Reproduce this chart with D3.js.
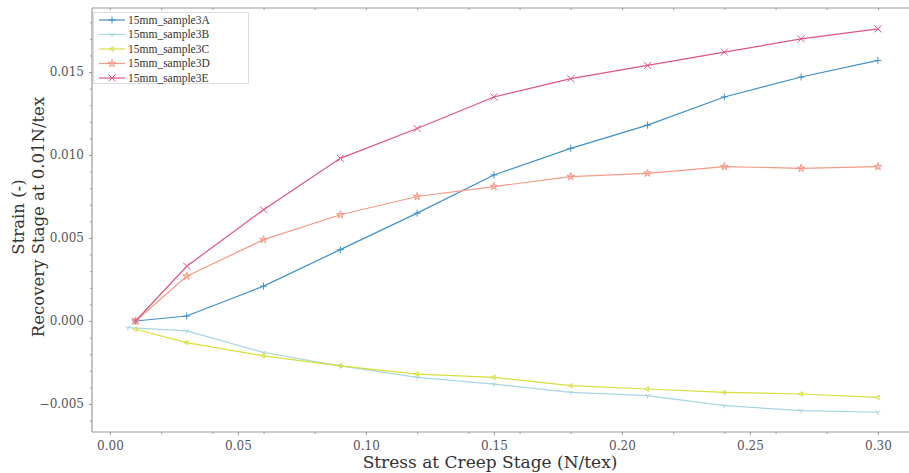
<!DOCTYPE html>
<html><head><meta charset="utf-8">
<script src="https://cdn.jsdelivr.net/npm/d3@7"></script>
<style>body{margin:0;background:#fff}</style>
</head><body>
<svg id="c" width="909" height="473"></svg>
<script>
const xStd = [0.01,0.03,0.06,0.09,0.12,0.15,0.18,0.21,0.24,0.27,0.30];
const xB = [0.007,0.03,0.06,0.09,0.12,0.15,0.18,0.21,0.24,0.27,0.30];
const s3A = [0.0000,0.0003,0.0021,0.0043,0.0065,0.0088,0.0104,0.0118,0.0135,0.0147,0.0157];
const s3B = [-0.0004,-0.0006,-0.0019,-0.0027,-0.0034,-0.0038,-0.0043,-0.0045,-0.0051,-0.0054,-0.0055];
const s3C = [-0.0005,-0.0013,-0.0021,-0.0027,-0.0032,-0.0034,-0.0039,-0.0041,-0.0043,-0.0044,-0.0046];
const s3D = [0.0000,0.0027,0.0049,0.0064,0.0075,0.0081,0.0087,0.0089,0.0093,0.0092,0.0093];
const s3E = [0.0000,0.0033,0.0067,0.0098,0.0116,0.0135,0.0146,0.0154,0.0162,0.0170,0.0176];
const seriesNames = ["15mm_sample3A","15mm_sample3B","15mm_sample3C","15mm_sample3D","15mm_sample3E"];
const xTicks = [0.00,0.05,0.10,0.15,0.20,0.25,0.30];
const yTicks = [-0.005,0.000,0.005,0.010,0.015];

const series = [
  {name:seriesNames[0], xs:xStd, ys:s3A, color:"#4190c6", marker:"plus"},
  {name:seriesNames[1], xs:xB, ys:s3B, color:"#a8d5e4", marker:"tri"},
  {name:seriesNames[2], xs:xStd, ys:s3C, color:"#d6e03c", marker:"left"},
  {name:seriesNames[3], xs:xStd, ys:s3D, color:"#f59a86", marker:"star"},
  {name:seriesNames[4], xs:xStd, ys:s3E, color:"#e05584", marker:"x"}
];

const svg = d3.select("#c");
const L = 92, T = 8, B = 432, R = 912;
const x = d3.scaleLinear().domain([-0.0070, 0.3133]).range([L, R]);
const y = d3.scaleLinear().domain([-0.00669, 0.01886]).range([B, T]);
const axisColor = "#9a9a9a";
const fontTick = "DejaVu Serif";

// spines
svg.append("line").attr("x1",L).attr("x2",909).attr("y1",B).attr("y2",B).attr("stroke",axisColor).attr("stroke-width",1.2);
svg.append("line").attr("x1",L).attr("x2",909).attr("y1",T).attr("y2",T).attr("stroke",axisColor).attr("stroke-width",1.2);
svg.append("line").attr("x1",L).attr("x2",L).attr("y1",T).attr("y2",B).attr("stroke",axisColor).attr("stroke-width",1.2);

// x axis
const xAxis = d3.axisBottom(x).tickValues(xTicks).tickFormat(d3.format(".2f")).tickSize(3).tickPadding(6);
const gx = svg.append("g").attr("transform",`translate(0,${B})`).call(xAxis);
gx.select(".domain").remove();
gx.selectAll("line").attr("stroke",axisColor);
gx.selectAll("text").attr("font-family",fontTick).attr("font-size",12).attr("fill","#555");
const minorX = d3.range(0,31,2).map(v=>v/100);
svg.append("g").attr("transform",`translate(0,${B})`).call(d3.axisBottom(x).tickValues(minorX).tickSize(2).tickFormat(""))
  .call(g=>{g.select(".domain").remove(); g.selectAll("line").attr("stroke",axisColor);});
svg.append("g").attr("transform",`translate(0,${T})`).call(d3.axisTop(x).tickValues(minorX).tickSize(-2).tickFormat(""))
  .call(g=>{g.select(".domain").remove(); g.selectAll("line").attr("stroke",axisColor);});

// y axis
const yAxis = d3.axisLeft(y).tickValues(yTicks).tickFormat(d => d3.format(".3f")(d).replace("-","\u2212")).tickSize(3).tickPadding(5);
const gy = svg.append("g").attr("transform",`translate(${L},0)`).call(yAxis);
gy.select(".domain").remove();
gy.selectAll("line").attr("stroke",axisColor);
gy.selectAll("text").attr("font-family",fontTick).attr("font-size",12).attr("fill","#555");
svg.append("g").attr("transform",`translate(${L},0)`).call(d3.axisLeft(y).tickValues(d3.range(-6,19,1).map(v=>v/1000)).tickSize(2).tickFormat(""))
  .call(g=>{g.select(".domain").remove(); g.selectAll("line").attr("stroke",axisColor);});

// axis titles
svg.append("text").attr("x",490).attr("y",468).attr("text-anchor","middle")
  .attr("font-family","DejaVu Serif").attr("font-size",17).attr("fill","#333").text("Stress at Creep Stage (N/tex)");
const yt = svg.append("text").attr("transform","translate(0,217) rotate(-90)").attr("text-anchor","middle")
  .attr("font-family","DejaVu Serif").attr("font-size",16.5).attr("fill","#333");
yt.append("tspan").attr("x",0).attr("y",24).text("Strain (-)");
yt.append("tspan").attr("x",0).attr("y",44).text("Recovery Stage at 0.01N/tex");

// markers
function marker(g, type, color, s) {
  const m = g.append("g");
  if (type==="plus") {
    m.append("path").attr("d",`M${-s},0H${s}M0,${-s}V${s}`).attr("stroke",color).attr("stroke-width",1).attr("fill","none");
  } else if (type==="x") {
    m.append("path").attr("d",`M${-s},${-s}L${s},${s}M${-s},${s}L${s},${-s}`).attr("stroke",color).attr("stroke-width",1).attr("fill","none");
  } else if (type==="tri") {
    const r = s*0.8;
    m.append("path").attr("d",`M0,0V${r}M0,0L${-r*0.87},${-r*0.5}M0,0L${r*0.87},${-r*0.5}`).attr("stroke",color).attr("stroke-width",1).attr("fill","none");
  } else if (type==="left") {
    const r = s*0.75;
    m.append("path").attr("d",`M${-r},0L${r*0.5},${-r*0.87}L${r*0.5},${r*0.87}Z`).attr("stroke",color).attr("stroke-width",1).attr("fill","none");
  } else if (type==="star") {
    m.append("path").attr("d",d3.symbol(d3.symbolStar, s*s*1.5)()).attr("stroke",color).attr("stroke-width",1).attr("fill",color).attr("fill-opacity",0.35);
  }
  return m;
}

const line = d3.line().x(d=>x(d[0])).y(d=>y(d[1]));
series.forEach(sr => {
  const pts = sr.xs.map((v,i)=>[v, sr.ys[i]]);
  svg.append("path").datum(pts).attr("d",line).attr("fill","none").attr("stroke",sr.color).attr("stroke-width",1.2);
  pts.forEach(p => {
    marker(svg, sr.marker, sr.color, 3.5).attr("transform",`translate(${x(p[0])},${y(p[1])})`);
  });
});

// legend
const lg = svg.append("g");
lg.append("rect").attr("x",93.5).attr("y",12.5).attr("width",155).attr("height",71).attr("fill","#fff").attr("stroke","#ddd").attr("stroke-width",1);
series.forEach((sr,i) => {
  const yy = 20 + i*14.5;
  lg.append("line").attr("x1",99).attr("x2",125).attr("y1",yy).attr("y2",yy).attr("stroke",sr.color).attr("stroke-width",1.2);
  marker(lg, sr.marker, sr.color, 3.5).attr("transform",`translate(112,${yy})`);
  lg.append("text").attr("x",128).attr("y",yy+3.5).attr("font-family","Liberation Serif").attr("font-size",11.5).attr("fill","#333").text(sr.name);
});
</script>
</body></html>
